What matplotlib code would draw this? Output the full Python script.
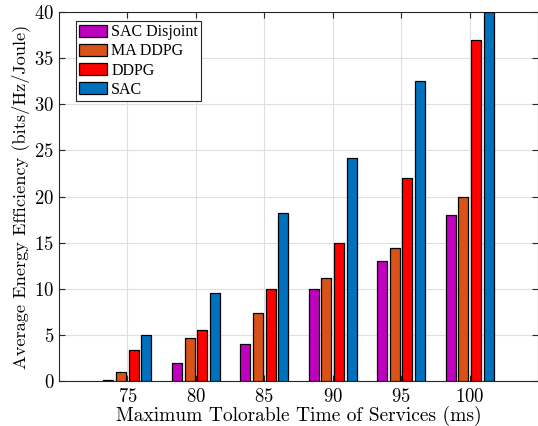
"""Average energy efficiency vs. maximum tolerable service time."""

import numpy as np
import matplotlib
matplotlib.use('Agg')
import matplotlib.pyplot as plt

plt.rcParams['font.family'] = 'serif'
plt.rcParams['font.serif'] = ['cmr10', 'DejaVu Serif']
plt.rcParams['axes.formatter.use_mathtext'] = True
plt.rcParams['mathtext.fontset'] = 'cm'

TIMES = [75, 80, 85, 90, 95, 100]
SERIES = ['SAC Disjoint', 'MA DDPG', 'DDPG', 'SAC']
SAC_DISJOINT = [0.1, 2.0, 4.0, 10.0, 13.0, 18.0]
MA_DDPG = [1.0, 4.7, 7.4, 11.2, 14.4, 20.0]
DDPG = [3.4, 5.5, 10.0, 15.0, 22.0, 37.0]
SAC = [5.0, 9.5, 18.2, 24.2, 32.5, 40.0]
COLORS = ['#BF00BF', '#D95319', '#FF0000', '#0072BD']


def run():
    fig = plt.figure(figsize=(5.38, 4.26), dpi=100)
    ax = fig.add_axes([0.1097, 0.1056, 0.8903, 0.8662])

    xpos = np.array(TIMES, dtype=float)
    step = 0.925
    width = 0.73
    values = [SAC_DISJOINT, MA_DDPG, DDPG, SAC]
    for i, (name, vals, col) in enumerate(zip(SERIES, values, COLORS)):
        ax.bar(xpos + (i - 1.5) * step, vals, width=width, color=col,
               edgecolor='black', linewidth=0.9, label=name, zorder=3)

    ax.set_xlim(70, 105)
    ax.set_ylim(0, 40)
    ax.set_xticks(TIMES)
    ax.set_yticks(np.arange(0, 41, 5))
    ax.tick_params(direction='in', top=True, right=True, labelsize=13.5,
                   length=4, width=0.8, colors='#262626', labelcolor='black')
    ax.tick_params(axis='x', pad=5)
    ax.grid(True, color='#dfdfdf', linewidth=0.8, zorder=0)
    ax.set_axisbelow(True)
    for sp in ax.spines.values():
        sp.set_color('#262626')
        sp.set_linewidth(0.8)

    ax.set_xlabel('Maximum Tolorable Time of Services (ms)', fontsize=14,
                  labelpad=0)
    ax.set_ylabel('Average Energy Efficiency (bits/Hz/Joule)', fontsize=13.2,
                  labelpad=3)

    leg = ax.legend(loc='upper left', bbox_to_anchor=(0.0356, 0.9756),
                    prop={'family': 'Liberation Serif', 'size': 11.5},
                    fancybox=False, edgecolor='#262626', framealpha=1,
                    handlelength=1.75, handleheight=0.8, handletextpad=0.25,
                    labelspacing=0.2, borderpad=0.2, borderaxespad=0)
    leg.get_frame().set_linewidth(0.8)

    fig.savefig('out.png', dpi=100)


if __name__ == '__main__':
    run()
